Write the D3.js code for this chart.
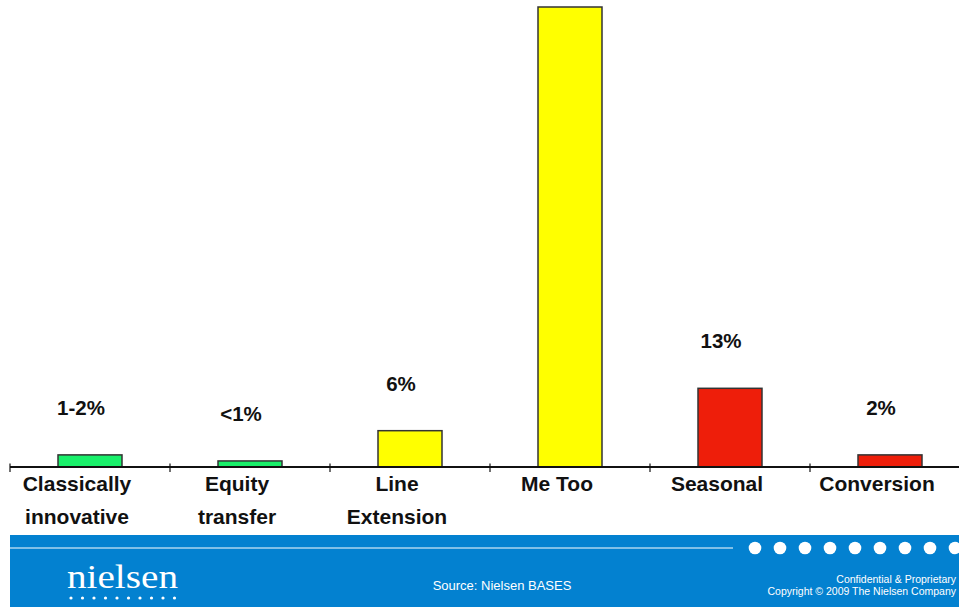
<!DOCTYPE html>
<html>
<head>
<meta charset="utf-8">
<script src="https://cdn.jsdelivr.net/npm/d3@7"></script>
<style>
  html, body { margin: 0; padding: 0; background: #fff; }
  svg { display: block; }
</style>
</head>
<body>
<svg id="chart" width="959" height="607"></svg>
<script>
// Share of new-product launches by innovation type
const categories = ["Classically\ninnovative", "Equity\ntransfer", "Line\nExtension", "Me Too", "Seasonal", "Conversion"];
const values = [2, 1, 6, 76, 13, 2];
const valueLabels = ["1-2%", "<1%", "6%", "", "13%", "2%"];
const barColors = ["#19F06A", "#19F06A", "#FFFF00", "#FFFF00", "#EE1E0A", "#EE1E0A"];
const sourceText = "Source: Nielsen BASES";
const footerLines = ["Confidential & Proprietary", "Copyright \u00A9 2009 The Nielsen Company"];

const W = 959, H = 607;
const svg = d3.select("#chart");
const font = "'Liberation Sans', Arial, Helvetica, sans-serif";

const baseY = 467;
const plotTop = 7;

// Category slots (tick boundaries) and bars inside them
const slot = d3.scaleBand().domain(categories).range([10, 970]).padding(0);
const x = d3.scaleBand().domain(categories).range([10, 970]).paddingInner(0.6).paddingOuter(0.3);
const y = d3.scaleLinear().domain([0, 76]).range([baseY, plotTop]);

// Bars
svg.append("g").selectAll("rect")
  .data(categories)
  .join("rect")
  .attr("x", d => x(d))
  .attr("y", (d, i) => y(values[i]))
  .attr("width", x.bandwidth())
  .attr("height", (d, i) => baseY - y(values[i]))
  .attr("fill", (d, i) => barColors[i])
  .attr("stroke", "#333")
  .attr("stroke-width", 1.5);

// Baseline axis with boundary ticks
const axis = svg.append("g");
axis.append("line")
  .attr("x1", 10).attr("x2", W)
  .attr("y1", baseY).attr("y2", baseY)
  .attr("stroke", "#111").attr("stroke-width", 2);
axis.selectAll("line.tick")
  .data(categories)
  .join("line")
  .attr("class", "tick")
  .attr("x1", d => slot(d)).attr("x2", d => slot(d))
  .attr("y1", baseY - 3.5).attr("y2", baseY + 5)
  .attr("stroke", "#111").attr("stroke-width", 1.2);

// Value labels above bars
svg.append("g").selectAll("text")
  .data(categories)
  .join("text")
  .attr("x", d => x(d) + x.bandwidth() / 2 - 9)
  .attr("y", (d, i) => y(values[i]) - 40)
  .attr("text-anchor", "middle")
  .attr("font-family", font)
  .attr("font-weight", "bold")
  .attr("font-size", 20.5)
  .attr("fill", "#111")
  .text((d, i) => valueLabels[i]);

// Category labels below the axis
const catLabels = svg.append("g").selectAll("text")
  .data(categories)
  .join("text")
  .attr("text-anchor", "middle")
  .attr("font-family", font)
  .attr("font-weight", "bold")
  .attr("font-size", 21)
  .attr("fill", "#111");
catLabels.each(function(d) {
  const cx = slot(d) + slot.bandwidth() / 2 - 13;
  d3.select(this).selectAll("tspan")
    .data(d.split("\n"))
    .join("tspan")
    .attr("x", cx)
    .attr("y", (l, j) => 491 + j * 33)
    .text(l => l);
});

// Footer band
const footer = svg.append("g");
footer.append("rect")
  .attr("x", 10).attr("y", 535)
  .attr("width", W - 10).attr("height", H - 535)
  .attr("fill", "#0381D0");
footer.append("line")
  .attr("x1", 10).attr("x2", 733)
  .attr("y1", 548).attr("y2", 548)
  .attr("stroke", "#fff").attr("stroke-width", 1);
footer.selectAll("circle.big")
  .data(d3.range(9))
  .join("circle")
  .attr("class", "big")
  .attr("cx", i => 755 + i * 25)
  .attr("cy", 548)
  .attr("r", 6.3)
  .attr("fill", "#fff");

// Wordmark
footer.append("text")
  .attr("x", 67).attr("y", 588)
  .attr("font-family", "'Liberation Serif', 'Times New Roman', serif")
  .attr("font-size", 33)
  .attr("fill", "#fff")
  .attr("textLength", 111)
  .attr("lengthAdjust", "spacingAndGlyphs")
  .text("nielsen");
footer.selectAll("circle.small")
  .data(d3.range(10))
  .join("circle")
  .attr("class", "small")
  .attr("cx", i => 71 + i * 11.5)
  .attr("cy", 598)
  .attr("r", 1.6)
  .attr("fill", "#fff");

footer.append("text")
  .attr("x", 502).attr("y", 590)
  .attr("text-anchor", "middle")
  .attr("font-family", font)
  .attr("font-size", 13)
  .attr("fill", "#fff")
  .text(sourceText);

footer.selectAll("text.conf")
  .data(footerLines)
  .join("text")
  .attr("class", "conf")
  .attr("x", 956)
  .attr("y", (d, i) => 583 + i * 12)
  .attr("text-anchor", "end")
  .attr("font-family", font)
  .attr("font-size", 10.5)
  .attr("fill", "#fff")
  .text(d => d);
</script>
</body>
</html>
